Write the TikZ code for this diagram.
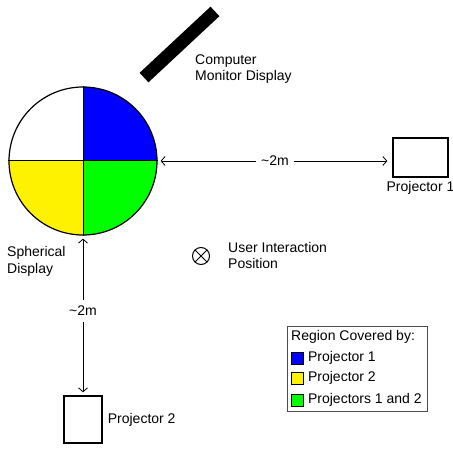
\documentclass[tikz,border=0pt]{standalone}
\usepackage{fontspec}
\setmainfont{Liberation Sans}
\usetikzlibrary{positioning,arrows.meta}
\begin{document}
\begin{tikzpicture}[
    x=1pt, y=1pt,
    every node/.style={font=\fontsize{14}{16.5}\selectfont},
    label/.style={align=left, inner sep=0pt},
    projbox/.style={rectangle, draw, line width=1.3pt, inner sep=0pt},
    swatch/.style={rectangle, draw, line width=0.8pt, minimum size=12pt, inner sep=0pt},
    dist/.style={{Straight Barb[length=4pt,width=9pt]}-{Straight Barb[length=4pt,width=9pt]}, line width=0.8pt},
]
\useasboundingbox (0,0) rectangle (453,448);

% Spherical display
\fill[blue] (83,287) -- (157,287) arc (0:90:74) -- cycle;
\fill[yellow] (83,287) -- (9,287) arc (180:270:74) -- cycle;
\fill[green] (83,287) -- (83,213) arc (270:360:74) -- cycle;
\node[circle, draw, line width=1.2pt, minimum size=148pt, inner sep=0pt] (sphere) at (83,287) {};
\draw[line width=1pt] (sphere.west) -- (sphere.east) (sphere.north) -- (sphere.south);
\node[label, anchor=west] (spherelabel) at (7,186.5) {Spherical\\Display};

% Monitor
\node[fill, rotate=43, minimum width=97pt, minimum height=13pt, inner sep=0pt] (monitor) at (179.5,403.5) {};
\node[label, anchor=west] (monlabel) at (195,379) {Computer\\Monitor Display};

% Projectors
\node[projbox, minimum width=55pt, minimum height=39pt] (proj1) at (420.5,290.5) {};
\node[label, below=4pt of proj1] (proj1label) {Projector 1};
\node[projbox, minimum width=38pt, minimum height=47pt] (proj2) at (83,28.5) {};
\node[label, right=5pt of proj2] (proj2label) {Projector 2};

% Distances
\draw[dist, shorten <=3pt, shorten >=5pt] (sphere.east) -- (sphere.east -| proj1.west)
    node[midway, fill=white, inner xsep=5pt, inner ysep=2pt] (dist1) {\textasciitilde 2m};
\draw[dist, shorten <=3pt, shorten >=3pt] (sphere.south) -- (proj2.north)
    node[pos=0.47, fill=white, inner xsep=2pt, inner ysep=6pt] (dist2) {\textasciitilde 2m};

% User interaction
\node[circle, draw, line width=1pt, minimum size=17pt, inner sep=0pt] (user) at (201,192) {};
\draw[line width=1pt] (user.north west) -- (user.south east) (user.north east) -- (user.south west);
\node[label, anchor=west] (userlabel) at (228,192.5) {User Interaction\\Position};

% Legend
\node[draw=gray!60!black, line width=0.8pt, minimum width=140pt, minimum height=85pt, inner sep=0pt] (legend) at (357,79.5) {};
\node[label, anchor=west] (legtitle) at (291,111) {Region Covered by:};
\node[swatch, fill=blue] (swblue) at (297.5,90) {};
\node[label, right=4pt of swblue] {Projector 1};
\node[swatch, fill=yellow] (swyellow) at (297.5,70) {};
\node[label, right=4pt of swyellow] {Projector 2};
\node[swatch, fill=green] (swgreen) at (297.5,48) {};
\node[label, right=4pt of swgreen] {Projectors 1 and 2};

\end{tikzpicture}
\end{document}
